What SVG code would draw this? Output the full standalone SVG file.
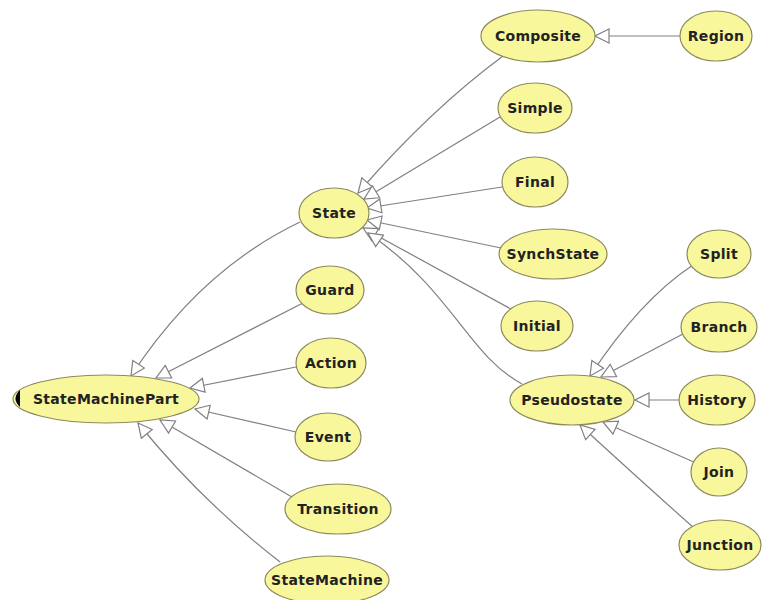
<svg xmlns="http://www.w3.org/2000/svg" width="771" height="600" viewBox="0 0 771 600">
<defs>
<style>
.node ellipse{fill:#f9f79c;stroke:#8c8a5c;stroke-width:1.2}
.node text{font-family:"DejaVu Sans",sans-serif;font-weight:bold;font-size:14px;fill:#222;text-anchor:middle;letter-spacing:0.3px}
.edges path{fill:none;stroke:#808080;stroke-width:1.2;marker-end:url(#gen)}
</style>
<marker id="gen" markerUnits="userSpaceOnUse" markerWidth="16" markerHeight="16" refX="14" refY="7" orient="auto" viewBox="-1 -1 16 16">
<path d="M0,0 L14,7 L0,14 Z" fill="#fff" stroke="#808080" stroke-width="1.2"/>
</marker>
</defs>
<rect width="771" height="600" fill="#fff"/>
<g class="edges">
<path d="M680,36 L595,36"/>
<path d="M503,56 Q430,110 358,193"/>
<path d="M500,117 L364,199"/>
<path d="M502,187 L367,208"/>
<path d="M501,248 L367,220"/>
<path d="M511,309 L363,228"/>
<path d="M522,384 C468,355 452,290 368,233"/>
<path d="M300,222 Q200,270 131,376"/>
<path d="M303,303 L156,378"/>
<path d="M296,367 L190,388"/>
<path d="M296,432 L195,409"/>
<path d="M292,497 L160,420"/>
<path d="M280,562 Q200,500 138,423"/>
<path d="M693,265 Q640,300 590,376"/>
<path d="M683,334 L601,377"/>
<path d="M680,400 L635,400"/>
<path d="M696,463 L603,422"/>
<path d="M694,528 Q640,480 580,425"/>
</g>
<g id="n-composite" class="node"><ellipse cx="538" cy="36" rx="57" ry="26"/><text x="538" y="41">Composite</text></g>
<g id="n-region" class="node"><ellipse cx="716" cy="36" rx="36" ry="25"/><text x="716" y="41">Region</text></g>
<g id="n-simple" class="node"><ellipse cx="535" cy="108" rx="37" ry="25"/><text x="535" y="113">Simple</text></g>
<g id="n-final" class="node"><ellipse cx="535" cy="182" rx="33" ry="25"/><text x="535" y="187">Final</text></g>
<g id="n-synchstate" class="node"><ellipse cx="553" cy="254" rx="54" ry="25"/><text x="553" y="259">SynchState</text></g>
<g id="n-initial" class="node"><ellipse cx="537" cy="326" rx="36" ry="25"/><text x="537" y="331">Initial</text></g>
<g id="n-split" class="node"><ellipse cx="719" cy="254" rx="32" ry="24"/><text x="719" y="259">Split</text></g>
<g id="n-branch" class="node"><ellipse cx="719" cy="327" rx="38" ry="25"/><text x="719" y="332">Branch</text></g>
<g id="n-history" class="node"><ellipse cx="717" cy="400" rx="38" ry="25"/><text x="717" y="405">History</text></g>
<g id="n-join" class="node"><ellipse cx="719" cy="472" rx="28" ry="24"/><text x="719" y="477">Join</text></g>
<g id="n-junction" class="node"><ellipse cx="720" cy="545" rx="41" ry="25"/><text x="720" y="550">Junction</text></g>
<g id="n-pseudostate" class="node"><ellipse cx="572" cy="400" rx="62" ry="25"/><text x="572" y="405">Pseudostate</text></g>
<g id="n-state" class="node"><ellipse cx="334" cy="213" rx="35" ry="25"/><text x="334" y="218">State</text></g>
<g id="n-guard" class="node"><ellipse cx="330" cy="290" rx="34" ry="24"/><text x="330" y="295">Guard</text></g>
<g id="n-action" class="node"><ellipse cx="331" cy="363" rx="35" ry="25"/><text x="331" y="368">Action</text></g>
<g id="n-event" class="node"><ellipse cx="328" cy="437" rx="33" ry="24"/><text x="328" y="442">Event</text></g>
<g id="n-transition" class="node"><ellipse cx="338" cy="509" rx="53" ry="25"/><text x="338" y="514">Transition</text></g>
<g id="n-statemachine" class="node"><ellipse cx="327" cy="580" rx="62" ry="24"/><text x="327" y="585">StateMachine</text></g>
<g id="n-statemachinepart" class="node"><ellipse cx="106" cy="399" rx="93" ry="24"/><text x="106" y="404">StateMachinePart</text><path d="M20,390 Q11,398.5 20,407 Z" fill="#000"/></g>
</svg>
